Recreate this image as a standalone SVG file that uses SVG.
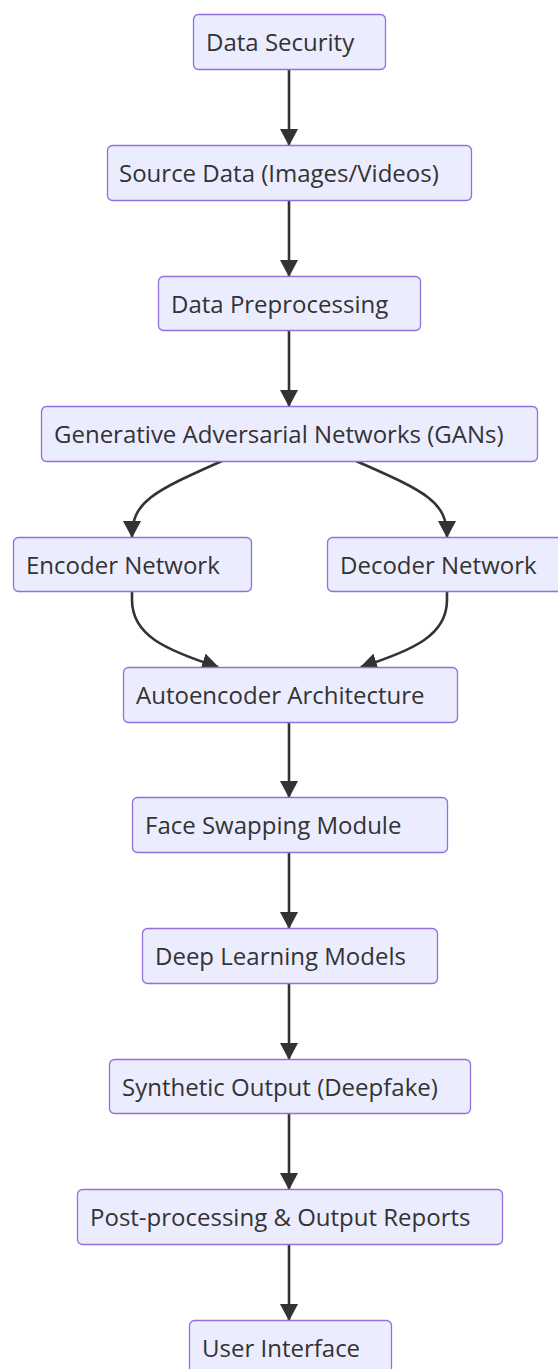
<svg xmlns="http://www.w3.org/2000/svg" width="558" height="1369" viewBox="0 0 558 1369">
<style>
.node rect{fill:#ECECFF;stroke:#9370DB;stroke-width:1.3;}
.node text{font-family:"Open Sans","DejaVu Sans",sans-serif;font-size:24px;fill:#333;}
.edge{fill:none;stroke:#333;stroke-width:2.6;}
</style>
<defs>
<marker id="arr" markerUnits="userSpaceOnUse" markerWidth="17" markerHeight="18" viewBox="0 0 17 18" refX="16" refY="9" orient="auto">
<path d="M0,0 L17,9 L0,18 z" fill="#333"/>
</marker>
</defs>
<rect width="558" height="1369" fill="#fff"/>
<g id="connectors">
<path class="edge" marker-end="url(#arr)" d="M289,69 L289,145"/>
<path class="edge" marker-end="url(#arr)" d="M289,200 L289,276"/>
<path class="edge" marker-end="url(#arr)" d="M289,330 L289,406"/>
<path class="edge" marker-end="url(#arr)" d="M222,461 C152,492 132,502 132,537"/>
<path class="edge" marker-end="url(#arr)" d="M356,461 C427,492 447,502 447,537"/>
<path class="edge" marker-end="url(#arr)" d="M132,591 L132,600 C132,635 165,650 218,667"/>
<path class="edge" marker-end="url(#arr)" d="M447,591 L447,600 C447,635 414,650 361,667"/>
<path class="edge" marker-end="url(#arr)" d="M289,722 L289,797"/>
<path class="edge" marker-end="url(#arr)" d="M289,852 L289,928"/>
<path class="edge" marker-end="url(#arr)" d="M289,983 L289,1059"/>
<path class="edge" marker-end="url(#arr)" d="M289,1113 L289,1189"/>
<path class="edge" marker-end="url(#arr)" d="M289,1244 L289,1320"/>
</g>
<g id="n1" class="node"><rect x="193.5" y="14.5" width="192" height="55" rx="5"/><text x="206" y="51">Data Security</text></g>
<g id="n2" class="node"><rect x="107.5" y="145.5" width="364" height="55" rx="5"/><text x="119" y="182">Source Data (Images/Videos)</text></g>
<g id="n3" class="node"><rect x="158.5" y="276.5" width="262" height="54" rx="5"/><text x="171" y="312.5">Data Preprocessing</text></g>
<g id="n4" class="node"><rect x="41.5" y="406.5" width="496" height="55" rx="5"/><text x="54" y="442.5">Generative Adversarial Networks (GANs)</text></g>
<g id="n5" class="node"><rect x="13.5" y="537.5" width="238" height="54" rx="5"/><text x="26" y="573.5">Encoder Network</text></g>
<g id="n6" class="node"><rect x="327.5" y="537.5" width="238" height="54" rx="5"/><text x="340" y="573.5">Decoder Network</text></g>
<g id="n7" class="node"><rect x="123.5" y="667.5" width="334" height="55" rx="5"/><text x="136" y="704">Autoencoder Architecture</text></g>
<g id="n8" class="node"><rect x="132.5" y="797.5" width="315" height="55" rx="5"/><text x="145" y="834">Face Swapping Module</text></g>
<g id="n9" class="node"><rect x="142.5" y="928.5" width="295" height="55" rx="5"/><text x="155" y="965">Deep Learning Models</text></g>
<g id="n10" class="node"><rect x="109.5" y="1059.5" width="361" height="54" rx="5"/><text x="122" y="1095.5">Synthetic Output (Deepfake)</text></g>
<g id="n11" class="node"><rect x="77.5" y="1189.5" width="425" height="55" rx="5"/><text x="90" y="1226">Post-processing &amp; Output Reports</text></g>
<g id="n12" class="node"><rect x="189.5" y="1320.5" width="202" height="55" rx="5"/><text x="202" y="1357">User Interface</text></g>
</svg>
